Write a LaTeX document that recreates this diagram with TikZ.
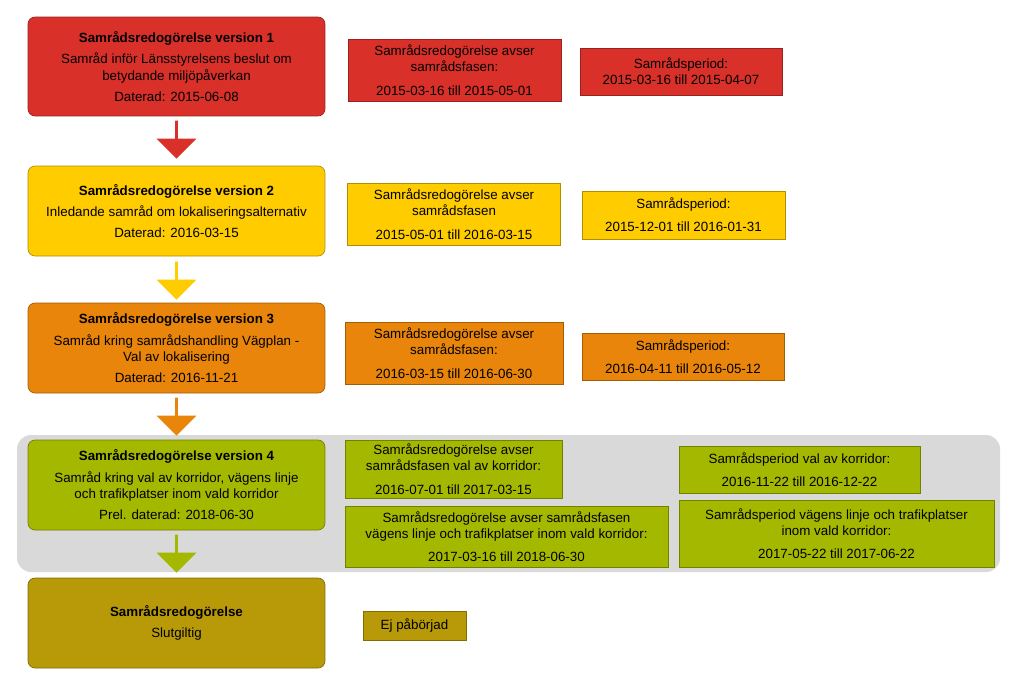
\documentclass[tikz,border=0pt]{standalone}
\usepackage{fontspec}
\setmainfont{Liberation Sans}
\usetikzlibrary{shapes.arrows, positioning}
\definecolor{cRed}{HTML}{D9302A}
\definecolor{cYel}{HTML}{FFCC00}
\definecolor{cOra}{HTML}{E8850A}
\definecolor{cGre}{HTML}{A5B800}
\definecolor{cOli}{HTML}{B89A08}
\definecolor{cGray}{HTML}{D9D9D9}
\tikzset{
    every node/.style={font=\fontsize{7.6}{9.2}\selectfont, align=center, inner sep=1pt},
    mainbox/.style={draw=#1!70!black, fill=#1, rounded corners=4pt, minimum width=5.94cm, minimum height=1.8cm},
    downarrow/.style={single arrow, draw=none, fill=#1, shape border rotate=270, minimum width=0.8cm, minimum height=0.76cm, single arrow head extend=0.1cm, inner sep=0pt}
}
\begin{document}
\begin{tikzpicture}[x=0.02cm, y=-0.02cm]
  \useasboundingbox (0,0) rectangle (1023,691);
  \fill[cGray, rounded corners=8pt] (17,435) rectangle (1000,572);

  % main column
  \node[mainbox=cRed, minimum height=1.98cm] (v1) at (176.5,66.5)
    {\textbf{Samrådsredogörelse version 1}\\[3pt]Samråd inför Länsstyrelsens beslut om\\betydande miljöpåverkan\\[3pt]Daterad: 2015-06-08};
  \node[mainbox=cYel] (v2) at (176.5,211)
    {\textbf{Samrådsredogörelse version 2}\\[3pt]Inledande samråd om lokaliseringsalternativ\\[3pt]Daterad: 2016-03-15};
  \node[mainbox=cOra] (v3) at (176.5,348)
    {\textbf{Samrådsredogörelse version 3}\\[3pt]Samråd kring samrådshandling Vägplan -\\Val av lokalisering\\[3pt]Daterad: 2016-11-21};
  \node[mainbox=cGre] (v4) at (176.5,485)
    {\textbf{Samrådsredogörelse version 4}\\[3pt]Samråd kring val av korridor, vägens linje\\och trafikplatser inom vald korridor\\[3pt]Prel. daterad: 2018-06-30};
  \node[mainbox=cOli] (v5) at (176.5,623)
    {\textbf{Samrådsredogörelse}\\[3pt]Slutgiltig};

  % arrows between
  \node[downarrow=cRed] (a1) at (176.5,139) {};
  \node[downarrow=cYel] (a2) at (176.5,280) {};
  \node[downarrow=cOra] (a3) at (176.5,416) {};
  \node[downarrow=cGre] (a4) at (176.5,553) {};

  % side boxes
  \tikzset{s/.style={draw=#1!70!black, fill=#1, minimum width=4.26cm}}
  \node[s=cRed, minimum height=1.24cm] (r1a) at (454.5,70)
    {Samrådsredogörelse avser\\samrådsfasen:\\[4pt]2015-03-16 till 2015-05-01};
  \node[s=cRed, minimum width=4.04cm, minimum height=0.94cm] (r1b) at (681,71.5)
    {Samrådsperiod:\\2015-03-16 till 2015-04-07};
  \node[s=cYel, minimum height=1.24cm] (r2a) at (454,214)
    {Samrådsredogörelse avser\\samrådsfasen\\[4pt]2015-05-01 till 2016-03-15};
  \node[s=cYel, minimum width=4.06cm, minimum height=0.96cm] (r2b) at (683.5,215)
    {Samrådsperiod:\\[4pt]2015-12-01 till 2016-01-31};
  \node[s=cOra, minimum width=4.36cm, minimum height=1.24cm] (r3a) at (454,353)
    {Samrådsredogörelse avser\\samrådsfasen:\\[4pt]2016-03-15 till 2016-06-30};
  \node[s=cOra, minimum width=4.04cm, minimum height=0.94cm] (r3b) at (683,356.5)
    {Samrådsperiod:\\[4pt]2016-04-11 till 2016-05-12};
  \node[s=cGre, minimum width=4.34cm, minimum height=1.16cm] (r4a) at (453.5,469)
    {Samrådsredogörelse avser\\samrådsfasen val av korridor:\\[4pt]2016-07-01 till 2017-03-15};
  \node[s=cGre, minimum width=6.46cm, minimum height=1.22cm] (r4b) at (506.5,536.5)
    {Samrådsredogörelse avser samrådsfasen\\vägens linje och trafikplatser inom vald korridor:\\[4pt]2017-03-16 till 2018-06-30};
  \node[s=cGre, minimum width=4.82cm, minimum height=0.94cm] (r4c) at (799.5,469.5)
    {Samrådsperiod val av korridor:\\[4pt]2016-11-22 till 2016-12-22};
  \node[s=cGre, minimum width=6.3cm, minimum height=1.34cm] (r4d) at (836.5,533.5)
    {Samrådsperiod vägens linje och trafikplatser\\inom vald korridor:\\[4pt]2017-05-22 till 2017-06-22};
  \node[s=cOli, minimum width=2.06cm, minimum height=0.58cm] (r5a) at (414.5,625.5)
    {Ej påbörjad};
\end{tikzpicture}
\end{document}
